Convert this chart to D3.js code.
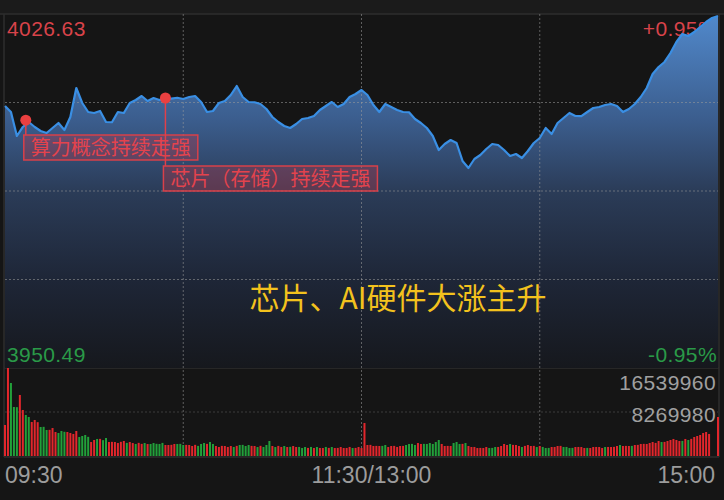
<!DOCTYPE html>
<html>
<head>
<meta charset="utf-8">
<script src="https://cdn.jsdelivr.net/npm/d3@7"></script>
<style>
  html, body { margin: 0; padding: 0; background: #151515; }
  svg { display: block; }
</style>
</head>
<body>
<svg id="chart" width="724" height="500"></svg>
<script>
// ---- data ----
const priceRange = [3950.49, 4026.63];
const pctLabels = ["+0.95%", "-0.95%"];

// index level, one value every 2 minutes (09:30 -> 15:00, 121 points)
const prices = [
  4006.84, 4005.55, 4000.39, 4002.33, 4003.40, 4002.33, 4001.47, 4001.03, 4002.11, 4003.19,
  4001.68, 4004.48, 4010.71, 4007.49, 4005.55, 4005.34, 4005.77, 4003.40, 4003.35, 4005.55,
  4005.34, 4007.49, 4008.13, 4008.99, 4007.92, 4008.56, 4008.13, 4008.56, 4008.42, 4008.61,
  4008.35, 4008.78, 4008.99, 4007.70, 4005.55, 4005.77, 4007.49, 4007.92, 4009.21, 4011.14,
  4008.78, 4007.70, 4007.65, 4007.27, 4006.20, 4004.48, 4003.40, 4002.54, 4002.11, 4002.97,
  4004.05, 4004.26, 4004.69, 4005.98, 4006.84, 4007.70, 4006.63, 4007.27, 4008.78, 4009.42,
  4010.28, 4009.21, 4007.06, 4005.55, 4007.27, 4006.63, 4005.98, 4005.55, 4005.50, 4004.05,
  4003.19, 4002.11, 4000.39, 3997.38, 3998.67, 3999.53, 3998.88, 3995.02, 3993.51, 3995.44,
  3996.30, 3997.59, 3998.67, 3998.45, 3997.38, 3996.09, 3996.52, 3995.66, 3997.16, 3998.88,
  3999.96, 4002.11, 4000.82, 4003.19, 4004.26, 4005.34, 4004.69, 4004.65, 4005.55, 4006.41,
  4006.63, 4007.06, 4007.27, 4006.84, 4005.55, 4006.20, 4007.27, 4008.78, 4010.71, 4013.72,
  4015.23, 4016.31, 4018.24, 4020.61, 4022.33, 4021.90, 4022.76, 4023.83, 4024.91, 4025.77,
  4026.20
];

// volume per minute, in units of 10 000 (241 bars)
const volumes = [
  583, 1654, 1372, 921, 918, 1147, 865, 771, 733, 639, 677, 636, 545, 548, 489, 492, 526, 451, 432, 470,
  455, 451, 432, 414, 470, 357, 376, 395, 360, 263, 301, 320, 322, 298, 338, 263, 266,
  263, 244, 266, 282, 246, 263,
  244, 226, 247, 228, 244, 225,
  226, 244, 229, 226, 246, 207,
  207, 210, 226,
  226, 228, 207, 209,
  207, 188, 210, 190,
  226, 244, 228, 263, 226,
  188, 169, 190, 188, 170, 188, 169, 190,
  207, 209, 188, 207, 190,
  188, 169, 191, 170,
  207, 282,
  188, 169, 190, 170, 188, 169, 172, 188, 169, 170,
  150, 169, 152, 170, 150, 169, 151, 150, 170, 152, 169,
  150, 152, 169, 150, 151, 170, 150, 152, 169, 150,
  620,
  207, 209, 188, 190, 188, 190, 207, 169, 188, 190, 170, 188, 190,
  207, 226, 228, 207, 244, 226, 228, 226, 244, 226, 263, 301,
  226, 188, 190, 188, 244, 263, 226, 228, 244,
  188, 169, 170, 150, 152, 150, 169, 150, 152, 169,
  170, 188, 226, 207, 226, 209, 207, 188, 169, 190, 207, 188, 190,
  169, 188, 170, 150, 152, 169, 170, 188, 190, 169, 170, 150, 152,
  169, 170, 169, 150, 152, 150, 169, 170, 169, 150, 169, 170, 169, 172, 188,
  207, 188, 190, 188, 190, 207, 209, 226, 228, 226, 244, 263, 246, 282,
  263, 265, 282, 301, 320, 301, 282, 284, 320, 301, 322, 357, 376, 395, 432, 451, 414,
  0, 0,
  733
];

// r = up (red), g = down (green), one char per bar
const volColors = [
  "rrgggrrggrrrgggrrrgggrrrrggggrrgrggrr",
  "rrrrgr", "rgrrgr", "gggggr", "rrr", "gggr", "rrrg", "ggrgg", "rrrrrrgr", "ggggr", "rgrg", "gg",
  "rgrrgrgrrg", "ggrgrgrrgrg", "rrrrrrgrrr",
  "r",
  "rrrrrggrrrrrr", "ggggrrgggggg", "rrrrgggrg", "rrrrrrrggg", "rrrrgrrrgrrrr", "grgggrrrrgggg",
  "rrrrgrrrrrgrrrr", "grrrgrrrrrrrrr", "grrrrrrgrgrrrrrrr", "rr", "r"
].join("").split("");

const volMax = 1653.996;
const volTickLabels = ["16539960", "8269980"];
const timeLabels = ["09:30", "11:30/13:00", "15:00"];

const notes = [
  { minute: 7, price: 4003.80, text: "算力概念持续走强" },
  { minute: 54, price: 4008.56, text: "芯片（存储）持续走强" }
];
const headline = "芯片、AI硬件大涨主升";

// ---- layout ----
const pLeft = 5, pRight = 718, pTop = 14, priceBottom = 368, volBottom = 456;
const numFont = "'Liberation Sans', Arial, sans-serif";
const cjkFont = "'Noto Sans CJK SC', sans-serif";
const red = "#e2262c", green = "#22a03a";

const x = d3.scaleLinear().domain([0, 240]).range([pLeft, pRight]);
const y = d3.scaleLinear().domain(priceRange).range([priceBottom, pTop]);
const yv = d3.scaleLinear().domain([0, volMax]).range([volBottom, priceBottom]);

const svg = d3.select("#chart");

const grad = svg.append("defs").append("linearGradient")
    .attr("id", "fillGrad")
    .attr("gradientUnits", "userSpaceOnUse")
    .attr("x1", 0).attr("x2", 0)
    .attr("y1", pTop).attr("y2", priceBottom);
[[0, "#5189cc"], [0.3, "#3b5d8d"], [0.5, "#2b3c58"], [0.75, "#1e2637"], [1, "#16181d"]]
  .forEach(([o, c]) => grad.append("stop").attr("offset", o).attr("stop-color", c));

// frame
svg.append("rect").attr("x", 0).attr("y", 0).attr("width", 724).attr("height", pTop).attr("fill", "#1b1b1b");
const frame = svg.append("g").attr("stroke", "#2e2e2e").attr("stroke-width", 1.5);
frame.append("line").attr("x1", 0).attr("x2", 724).attr("y1", pTop).attr("y2", pTop);
frame.append("line").attr("x1", pLeft - 1).attr("x2", pRight + 1).attr("y1", priceBottom).attr("y2", priceBottom);
frame.append("line").attr("x1", pLeft - 1).attr("x2", pRight + 1).attr("y1", volBottom + 1).attr("y2", volBottom + 1);
frame.append("line").attr("x1", pLeft - 1).attr("x2", pLeft - 1).attr("y1", pTop).attr("y2", volBottom + 1);
frame.append("line").attr("x1", pRight + 1).attr("x2", pRight + 1).attr("y1", pTop).attr("y2", volBottom + 1);

// top labels sit under the area, as in the app
const topLab = svg.append("g").attr("font-family", numFont).attr("font-size", 21).attr("letter-spacing", 0.4).attr("fill", "#d8434a");
topLab.append("text").attr("x", 7).attr("y", 36).text(priceRange[1].toFixed(2));
topLab.append("text").attr("x", 717).attr("y", 36).attr("text-anchor", "end").text(pctLabels[0]);

// price area + line
const pts = prices.map((p, i) => ({ m: i * 2, p }));
svg.append("path")
    .datum(pts)
    .attr("fill", "url(#fillGrad)")
    .attr("d", d3.area().x(d => x(d.m)).y0(priceBottom).y1(d => y(d.p)));

// grid
const grid = svg.append("g")
    .attr("stroke", "#9a9a9a")
    .attr("stroke-opacity", 0.55)
    .attr("stroke-width", 1)
    .attr("stroke-dasharray", "2,2");
const step = (priceRange[1] - priceRange[0]) / 4;
grid.selectAll(".hg")
    .data([1, 2, 3].map(k => priceRange[0] + k * step))
    .enter().append("line")
    .attr("x1", pLeft).attr("x2", pRight)
    .attr("y1", d => y(d)).attr("y2", d => y(d));
grid.append("line")
    .attr("x1", pLeft).attr("x2", pRight)
    .attr("y1", yv(volMax / 2)).attr("y2", yv(volMax / 2))
    .attr("stroke-opacity", 0.3);
grid.selectAll(".vg")
    .data([60, 120, 180])
    .enter().append("line")
    .attr("x1", d => x(d)).attr("x2", d => x(d))
    .attr("y1", pTop).attr("y2", volBottom);

svg.append("path")
    .datum(pts)
    .attr("fill", "none")
    .attr("stroke", "#3a8fe4")
    .attr("stroke-width", 2.2)
    .attr("stroke-linejoin", "round")
    .attr("d", d3.line().x(d => x(d.m)).y(d => y(d.p)));

// bottom labels over the area
const botLab = svg.append("g").attr("font-family", numFont).attr("font-size", 21).attr("letter-spacing", 0.4).attr("fill", "#2a9a48");
botLab.append("text").attr("x", 7).attr("y", 362).text(priceRange[0].toFixed(2));
botLab.append("text").attr("x", 717).attr("y", 362).attr("text-anchor", "end").text(pctLabels[1]);

// volume bars
svg.append("g").selectAll("rect")
    .data(volumes)
    .enter().append("rect")
    .attr("x", (d, i) => x(i) - 1)
    .attr("width", 2)
    .attr("y", d => yv(d))
    .attr("height", d => volBottom - yv(d))
    .attr("fill", (d, i) => volColors[i] === "g" ? green : red);

// volume labels
svg.append("g").attr("font-family", numFont).attr("font-size", 21).attr("letter-spacing", 0.4)
  .selectAll("text")
    .data(volTickLabels)
    .enter().append("text")
    .attr("x", 716)
    .attr("y", (d, i) => [390, 422][i])
    .attr("text-anchor", "end")
    .attr("fill", "#a0a0a0")
    .text(d => d);

// time labels
const tl = svg.append("g").attr("font-family", numFont).attr("font-size", 23).attr("fill", "#9c9c9c");
tl.append("text").attr("x", x(0)).attr("y", 483).text(timeLabels[0]);
tl.append("text").attr("x", x(120) + 10).attr("y", 483).attr("text-anchor", "middle").text(timeLabels[1]);
tl.append("text").attr("x", 715).attr("y", 483).attr("text-anchor", "end").text(timeLabels[2]);

// annotations
const boxTops = [135, 166];
notes.forEach((n, i) => {
  const cx = x(n.minute), cy = y(n.price);
  const g = svg.append("g");
  g.append("line")
      .attr("x1", cx).attr("x2", cx)
      .attr("y1", cy).attr("y2", boxTops[i])
      .attr("stroke", "#e0404a").attr("stroke-width", 1.5);
  const rect = g.append("rect")
      .attr("x", cx - 2).attr("y", boxTops[i])
      .attr("height", 25)
      .attr("fill", "rgba(220,50,62,0.28)")
      .attr("stroke", "#d8404a").attr("stroke-width", 1.5);
  const t = g.append("text")
      .attr("x", cx + 5).attr("y", boxTops[i] + 20)
      .attr("font-family", cjkFont).attr("font-size", 20)
      .attr("fill", "#e4434d")
      .text(n.text);
  rect.attr("width", t.node().getComputedTextLength() + 14);
  g.append("circle").attr("cx", cx).attr("cy", cy).attr("r", 5.5).attr("fill", "#ea4040");
});

// headline
svg.append("text")
    .attr("x", 398).attr("y", 309)
    .attr("text-anchor", "middle")
    .attr("font-family", cjkFont)
    .attr("font-size", 30)
    .attr("fill", "#f3c21d")
    .text(headline);
</script>
</body>
</html>
